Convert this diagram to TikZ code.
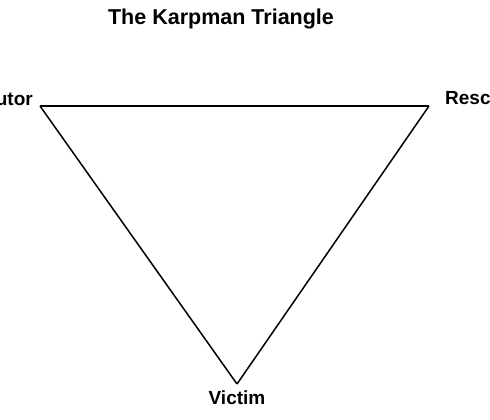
\documentclass[tikz,border=0pt]{standalone}
\usepackage{fontspec}
\setmainfont{Liberation Sans}
\usepackage{tikz}
\usetikzlibrary{positioning}

\begin{document}
\begin{tikzpicture}[
            x=1pt, y=-1pt,
            rolelabel/.style={inner sep=0pt, font=\bfseries\fontsize{19}{19}\selectfont},
            titlelabel/.style={inner sep=0pt, font=\bfseries\fontsize{21.5}{21.5}\selectfont},
            edge/.style={draw, line width=1.5pt, line join=miter}
        ]
        \useasboundingbox (0,0) rectangle (490,420);
        % Title
        \node[titlelabel, anchor=base] (title) at (221,25) {The Karpman Triangle};
        % Corners
        \coordinate (pers) at (40,106);
        \coordinate (resc) at (429,106);
        \coordinate (vict) at (237,384);
        % Roles
        \node[rolelabel, anchor=base east] (pers_label) at (33,105) {Persecutor};
        \node[rolelabel, anchor=base west] (resc_label) at (445,104) {Rescuer};
        \node[rolelabel, anchor=base] (vict_label) at (237,404) {Victim};
        % Triangle
        \draw[edge] (pers) -- (resc);
        \draw[edge] (resc) -- (vict);
        \draw[edge] (vict) -- (pers);
    \end{tikzpicture}
\end{document}
